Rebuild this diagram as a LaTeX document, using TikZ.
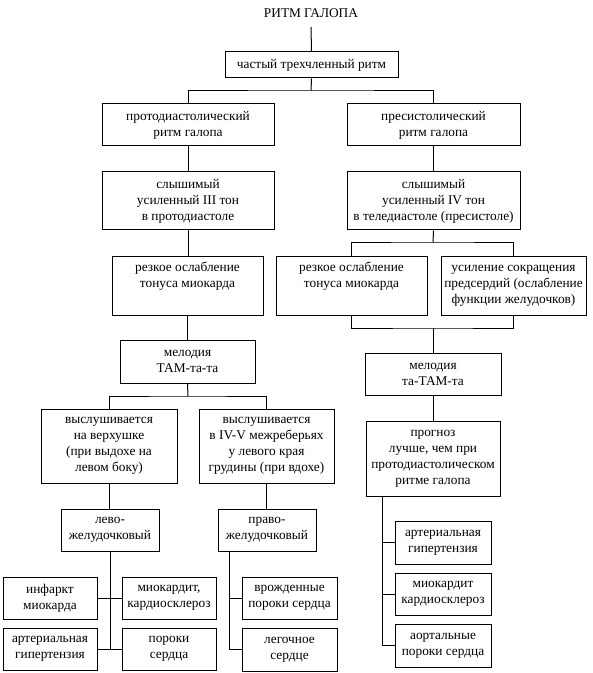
\documentclass[tikz,border=0pt]{standalone}
\usepackage{fontspec}
\setmainfont{Liberation Serif}
\tikzset{
  bx/.style={draw, line width=0.75pt, align=center, inner sep=0pt, font=\fontsize{10}{12}\selectfont},
  ln/.style={line width=0.75pt},
}
\newcommand\bxnode[6]{%
  \pgfmathsetmacro\bxw{0.75*(#4-#2)}%
  \pgfmathsetmacro\bxh{0.75*(#5-#3)}%
  \node[bx, minimum width=\bxw pt, minimum height=\bxh pt] (#1) at ({(#2+#4)/2},{(#3+#5)/2}) {#6};}
\begin{document}
\begin{tikzpicture}[x=0.75pt,y=-0.75pt]
\useasboundingbox (0,0) rectangle (592,673);
\node[font=\fontsize{10}{12}\selectfont, anchor=base, inner ysep=6.4pt, inner xsep=0pt] (title) at (311,18) {РИТМ ГАЛОПА};
\bxnode{b1}{225}{52}{398}{78}{частый трехчленный ритм}
\bxnode{L1}{102}{104}{274}{146}{протодиастолический\\ритм галопа}
\bxnode{R1}{347}{104}{520}{146}{пресистолический\\ритм галопа}
\bxnode{L2}{102}{172}{274}{230}{слышимый\\усиленный III тон\\в протодиастоле}
\bxnode{R2}{347}{172}{520}{230}{слышимый\\усиленный IV тон\\в теледиастоле (пресистоле)}
\bxnode{L3}{112}{256}{263}{315}{резкое ослабление\\тонуса миокарда\\\strut}
\bxnode{R3a}{276}{256}{427}{315}{резкое ослабление\\тонуса миокарда\\\strut}
\bxnode{R3b}{441}{256}{586}{315}{усиление сокращения\\предсердий (ослабление\\функции желудочков)}
\bxnode{L4}{120}{340}{255}{383}{мелодия\\ТАМ-та-та}
\bxnode{R4}{365}{353}{501}{395}{мелодия\\та-ТАМ-та}
\bxnode{L5a}{41}{409}{177}{483}{выслушивается\\на верхушке\\(при выдохе на\\левом боку)}
\bxnode{L5b}{199}{409}{334}{483}{выслушивается\\в IV-V межреберьях\\у левого края\\грудины (при вдохе)}
\bxnode{R5}{366}{421}{500}{496}{прогноз\\лучше, чем при\\протодиастолическом\\ритме галопа}
\bxnode{L6a}{61}{509}{159}{551}{лево-\\желудочковый}
\bxnode{L6b}{218}{509}{316}{551}{право-\\желудочковый}
\bxnode{Ba1}{3}{577}{97}{619}{инфаркт\\миокарда}
\bxnode{Ba2}{122}{577}{216}{619}{миокардит,\\кардиосклероз}
\bxnode{Ba3}{3}{628}{97}{670}{артериальная\\гипертензия}
\bxnode{Ba4}{122}{628}{216}{670}{пороки\\сердца}
\bxnode{Bb1}{242}{577}{337}{619}{врожденные\\пороки сердца}
\bxnode{Bb2}{242}{628}{337}{671}{легочное\\сердце}
\bxnode{Bc1}{395}{521}{491}{564}{артериальная\\гипертензия}
\bxnode{Bc2}{395}{573}{491}{615}{миокардит\\кардиосклероз}
\bxnode{Bc3}{395}{624}{491}{667}{аортальные\\пороки сердца}
% junctions
\coordinate (j1) at (311,91);
\coordinate (j2) at (433,243);
\coordinate (j3) at (433,328);
\coordinate (j4) at (188,396);
\coordinate (v2) at (229,551);
\coordinate (v3) at (382,496);
% connectors
\draw[ln] (title.south) -- (b1.north);
\draw[ln] (b1.south) -- (j1);
\draw[ln] (L1.north) |- (j1) -| (R1.north);
\draw[ln] (L1.south) -- (L2.north);
\draw[ln] (R1.south) -- (R2.north);
\draw[ln] (L2.south) -- (L2.south |- L3.north);
\draw[ln] (R2.south) -- (j2);
\draw[ln] (R3a.north) |- (j2) -| (R3b.north);
\draw[ln] (L3.south) -- (L3.south |- L4.north);
\draw[ln] (R3a.south) |- (j3) -| (R3b.south);
\draw[ln] (j3) -- (R4.north);
\draw[ln] (L4.south) -- (j4);
\draw[ln] (L5a.north) |- (j4) -| (L5b.north);
\draw[ln] (R4.south) -- (R4.south |- R5.north);
\draw[ln] (L5a.south) -- (L5a.south |- L6a.north);
\draw[ln] (L5b.south) -- (L5b.south |- L6b.north);
\draw[ln] (L6a.south) -- (L6a.south |- Ba3.east);
\draw[ln] (Ba1.east) -- (Ba2.west);
\draw[ln] (Ba3.east) -- (Ba4.west);
\draw[ln] (v2) |- (Bb2.west);
\draw[ln] (Bb1.west) -- (Bb1.west -| v2);
\draw[ln] (v3) |- (Bc3.west);
\draw[ln] (Bc1.west) -- (Bc1.west -| v3);
\draw[ln] (Bc2.west) -- (Bc2.west -| v3);
\end{tikzpicture}
\end{document}
